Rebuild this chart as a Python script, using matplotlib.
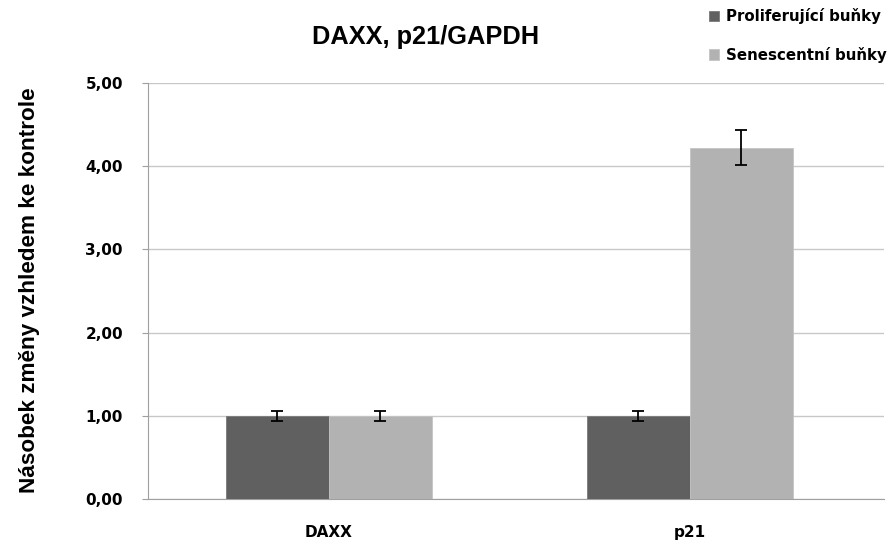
import matplotlib
matplotlib.use("Agg")
import matplotlib.pyplot as plt
import numpy as np
from matplotlib.ticker import FuncFormatter

categories = ["DAXX", "p21"]
series_names = ["Proliferující buňky", "Senescentní buňky"]
proliferating = [1.00, 1.00]
senescent = [1.00, 4.22]
prolif_err = [0.06, 0.06]
senes_err = [0.06, 0.21]
colors = ["#606060", "#b2b2b2"]

fig = plt.figure(figsize=(8.93, 5.46), dpi=100)
ax = fig.add_axes([0.1657, 0.0861, 0.824, 0.7619])

x = np.arange(len(categories))
w = 0.285
err_kw = dict(ecolor="black", elinewidth=1.3, capsize=4, capthick=1.3)
ax.bar(x - w / 2, proliferating, w, color=colors[0], edgecolor="#7a7a7a", linewidth=0.6,
       yerr=prolif_err, error_kw=err_kw, label=series_names[0], zorder=3)
ax.bar(x + w / 2, senescent, w, color=colors[1], edgecolor="#c4c4c4", linewidth=0.6,
       yerr=senes_err, error_kw=err_kw, label=series_names[1], zorder=3)

ax.set_xlim(-0.501, 1.537)
ax.set_ylim(0, 5)
ax.set_yticks(np.arange(0, 6, 1))
ax.yaxis.set_major_formatter(FuncFormatter(lambda v, p: f"{v:.2f}".replace(".", ",")))
ax.grid(axis="y", color="#c8c8c8", linewidth=1, zorder=0)
ax.set_axisbelow(True)

for s in ["top", "right"]:
    ax.spines[s].set_visible(False)
ax.spines["left"].set_color("#a0a0a0")
ax.spines["bottom"].set_color("#a0a0a0")
ax.tick_params(axis="y", length=4, color="#a0a0a0", pad=14)
ax.tick_params(axis="x", length=0, pad=19)

ax.set_xticks(x)
ax.set_xticklabels(categories, fontsize=11, fontweight="bold", family="DejaVu Sans")
for lab in ax.get_yticklabels():
    lab.set_fontsize(11)
    lab.set_fontweight("bold")
    lab.set_family("DejaVu Sans")

fig.text(30 / 893, 1 - 290 / 546, "Násobek změny vzhledem ke kontrole", rotation=90,
         ha="center", va="center", fontsize=16.2, fontweight="bold",
         family="Liberation Sans")
fig.text(426 / 893, 1 - 37 / 546, "DAXX, p21/GAPDH", ha="center", va="center",
         fontsize=18.3, fontweight="bold", family="Liberation Sans")

leg = fig.legend(loc="upper right", bbox_to_anchor=(1.008, 1.01), frameon=False,
                 prop=dict(family="DejaVu Sans", weight="bold", size=10.8),
                 handlelength=0.7, handleheight=0.7, handletextpad=0.45,
                 labelspacing=1.5)

fig.savefig("out.png", dpi=100)
